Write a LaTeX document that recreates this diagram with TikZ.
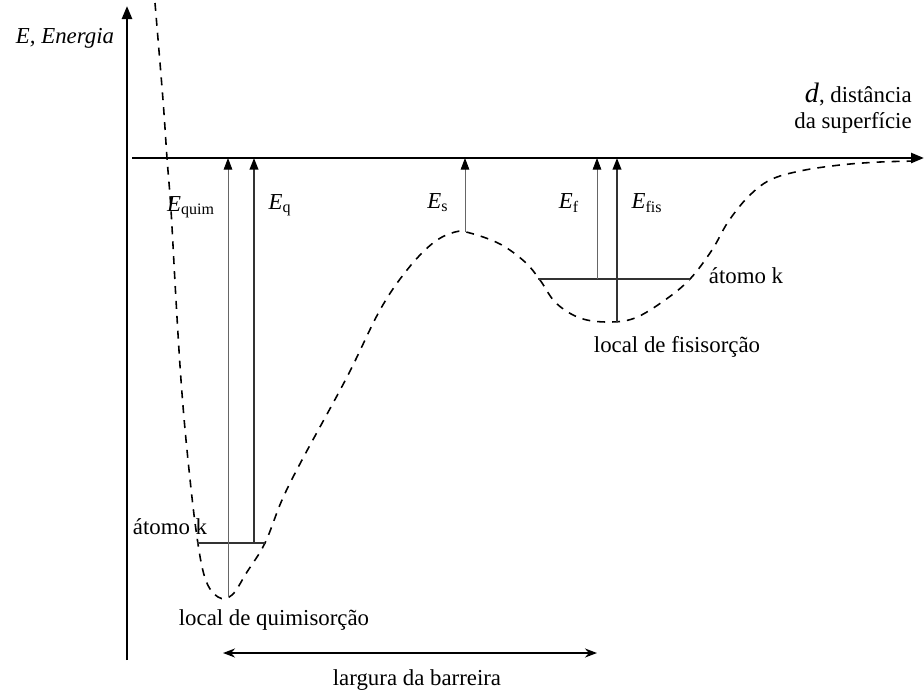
\documentclass[tikz,border=0pt]{standalone}
\usepackage{fontspec}
\setmainfont{Liberation Serif}
\usetikzlibrary{arrows.meta}
\tikzset{
  axis/.style={line width=1.4pt, -{Triangle[width=2mm,length=2.6mm]}},
  thinup/.style={line width=0.5pt, gray!80!black, -{Triangle[color=black,width=1.7mm,length=2.3mm]}},
  thickup/.style={line width=1.1pt, black!80, -{Triangle[color=black,width=1.7mm,length=2.3mm]}},
  level/.style={line width=1.1pt, black!80},
  curve/.style={line width=0.9pt, dash pattern=on 4.5pt off 4pt},
  lbl/.style={inner sep=0pt, font=\fontsize{13}{15}\selectfont},
}
\begin{document}
\begin{tikzpicture}[x=0.02cm, y=-0.02cm]
    \useasboundingbox (0,0) rectangle (924,691);
    % axes
    \coordinate (o) at (127,660);
    \coordinate (ytop) at (127,6);
    \coordinate (xl) at (132,158);
    \coordinate (xr) at (924,158);
    \draw[axis] (o) -- (ytop);
    \draw[axis] (xl) -- (xr);
    \node[lbl] (elab) at (65,38) {\textit{E, Energia}};
    \node[lbl, align=right, anchor=east] (dlab) at (912,108) {{\fontsize{16}{15}\selectfont\textit{d}}, distância\\da superfície};
    % potential curve
    \draw[curve] plot[smooth, tension=0.6] coordinates {
      (155,3) (163,100) (167,158) (171,210) (176,300) (181,380) (187,450)
      (196,530) (205,578) (218,597) (232,595) (247,572) (265,543) (282,500)
      (302,460) (347,377) (380,310) (407,270) (433,243) (455,232) (470,233)
      (500,244) (525,262) (540,280) (556,303) (580,318) (608,322) (635,318)
      (665,300) (690,279) (712,250) (728,222) (748,197) (770,180) (800,171)
      (840,165) (880,162) (920,161)};
    % chemisorption well
    \coordinate (qa) at (197,543);
    \coordinate (qb) at (265,543);
    \draw[level] (qa) -- (qb);
    \coordinate (quimb) at (228,597);
    \coordinate (quimt) at (228,158);
    \draw[thinup] (quimb) -- (quimt);
    \coordinate (qbot) at (254,543);
    \coordinate (qtop) at (254,158);
    \draw[thickup] (qbot) -- (qtop);
    \node[lbl] (equim) at (191,207) {\textit{E}\textsubscript{quim}};
    \node[lbl] (eq) at (280,205) {\textit{E}\textsubscript{q}};
    \node[lbl] (atk1) at (170,527) {átomo k};
    \node[lbl] (lquim) at (274,620) {local de quimisorção};
    % saddle
    \coordinate (sb) at (465,232);
    \coordinate (st) at (465,158);
    \draw[thinup] (sb) -- (st);
    \node[lbl] (es) at (438,203) {\textit{E}\textsubscript{s}};
    % physisorption well
    \coordinate (fa) at (538,279);
    \coordinate (fb) at (690,279);
    \draw[level] (fa) -- (fb);
    \coordinate (fbot) at (597,279);
    \coordinate (ftop) at (597,158);
    \draw[thinup] (fbot) -- (ftop);
    \coordinate (fisb) at (617,322);
    \coordinate (fist) at (617,158);
    \draw[thickup] (fisb) -- (fist);
    \node[lbl] (ef) at (569,203) {\textit{E}\textsubscript{f}};
    \node[lbl] (efis) at (647,203) {\textit{E}\textsubscript{fis}};
    \node[lbl] (atk2) at (746,276) {átomo k};
    \node[lbl] (lfis) at (677,347) {local de fisisorção};
    % barrier width
    \coordinate (wl) at (223,653);
    \coordinate (wr) at (597,653);
    \draw[line width=1.1pt, {Stealth[length=2.4mm]}-{Stealth[length=2.4mm]}] (wl) -- (wr);
    \node[lbl] (larg) at (417,680) {largura da barreira};
\end{tikzpicture}
\end{document}
